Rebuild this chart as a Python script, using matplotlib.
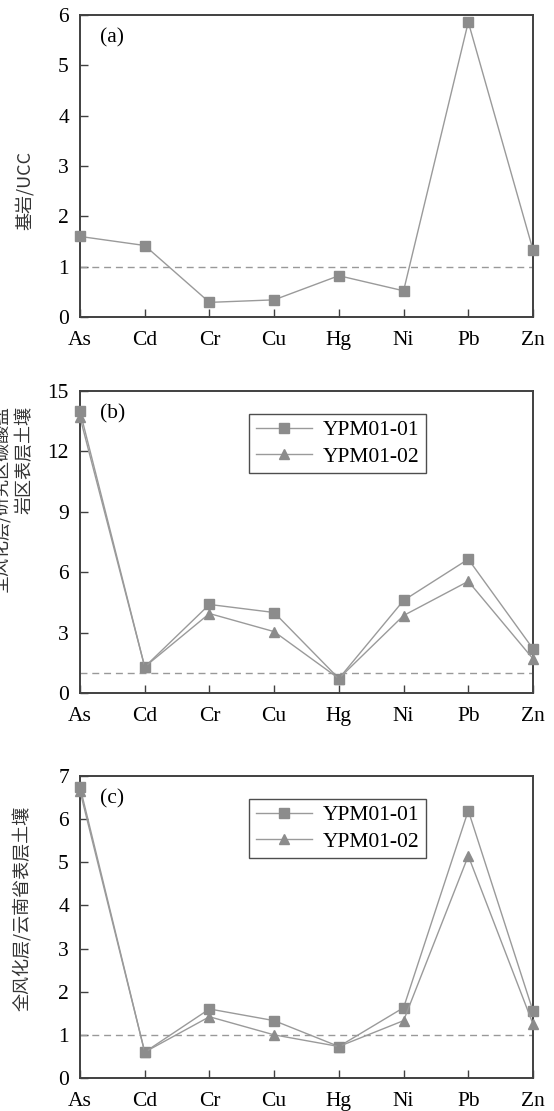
import numpy as np
import matplotlib.pyplot as plt

elements = ["As", "Cd", "Cr", "Cu", "Hg", "Ni", "Pb", "Zn"]

# (a) bedrock / UCC
bedrock_ucc = [1.60, 1.42, 0.29, 0.34, 0.82, 0.52, 5.86, 1.33]

# (b) weathered layer / carbonate-area topsoil
b_ypm01 = [14.0, 1.30, 4.40, 4.00, 0.72, 4.60, 6.65, 2.20]
b_ypm02 = [13.7, 1.30, 3.95, 3.05, 0.72, 3.85, 5.55, 1.70]

# (c) weathered layer / Yunnan topsoil
c_ypm01 = [6.75, 0.60, 1.60, 1.33, 0.73, 1.63, 6.20, 1.55]
c_ypm02 = [6.65, 0.60, 1.42, 1.00, 0.73, 1.33, 5.15, 1.25]

series_names = ["YPM01-01", "YPM01-02"]
ylabels = ["基岩/UCC", "全风化层/研究区碳酸盐\n岩区表层土壤", "全风化层/云南省表层土壤"]
panel_tags = ["(a)", "(b)", "(c)"]
yticks = [np.arange(0, 7, 1), np.arange(0, 16, 3), np.arange(0, 8, 1)]

serif = ["Liberation Serif", "DejaVu Serif"]
cjk = ["Noto Sans CJK SC", "DejaVu Sans"]
line_c = "#9a9a9a"
mark_c = "#8c8c8c"
spine_c = "#404040"

fig = plt.figure(figsize=(5.54, 11.11), dpi=100)
left, width = 0.1444, 0.8177
bottoms = [0.7147, 0.3762, 0.0297]
height = 0.2718

x = np.arange(len(elements))
data = [[bedrock_ucc], [b_ypm01, b_ypm02], [c_ypm01, c_ypm02]]
markers = ["s", "^"]

# label anchor (axes fraction) and vertical alignment
label_pos = [(-0.122, 0.42, "center"), (-0.148, 0.95, "top"), (-0.126, 0.56, "center")]

for i in range(3):
    ax = fig.add_axes([left, bottoms[i], width, height])
    for j, ys in enumerate(data[i]):
        lab = series_names[j] if i > 0 else None
        ax.plot(x, ys, color=line_c, lw=1.0, marker=markers[j], ms=7.5,
                mfc=mark_c, mec=mark_c, label=lab, clip_on=False, zorder=3)
    ax.axhline(1.0, color="#999999", lw=1.0, ls=(0, (5, 3.5)), zorder=2)
    ax.set_xlim(0, 7)
    ax.set_ylim(yticks[i][0], yticks[i][-1])
    ax.set_xticks(x)
    ax.set_xticklabels(elements, fontfamily=serif, fontsize=15.5)
    ax.set_yticks(yticks[i])
    ax.set_yticklabels([str(v) for v in yticks[i]], fontfamily=serif, fontsize=15.5)
    ax.tick_params(axis="both", direction="in", length=6, width=1.0, color=spine_c)
    ax.tick_params(axis="x", pad=10)
    ax.tick_params(axis="y", pad=8)
    for s in ax.spines.values():
        s.set_color(spine_c)
        s.set_linewidth(1.4)
    ax.text(0.045, 0.955, panel_tags[i], transform=ax.transAxes, ha="left", va="top",
            fontfamily=serif, fontsize=15.5)
    lx, ly, lva = label_pos[i]
    ax.text(lx, ly, ylabels[i], transform=ax.transAxes, rotation=90,
            ha="center", va=lva, multialignment="right", linespacing=1.3,
            fontfamily=cjk, fontsize=13, color="#333333")
    if i > 0:
        leg = ax.legend(loc="upper left", bbox_to_anchor=(0.35, 0.96), frameon=True,
                        fancybox=False, edgecolor="#222222", handlelength=2.6,
                        borderpad=0.3, labelspacing=0.3, handletextpad=0.5,
                        prop={"family": serif, "size": 15.5})
        leg.get_frame().set_linewidth(1.0)

fig.savefig("out.png", dpi=100)
